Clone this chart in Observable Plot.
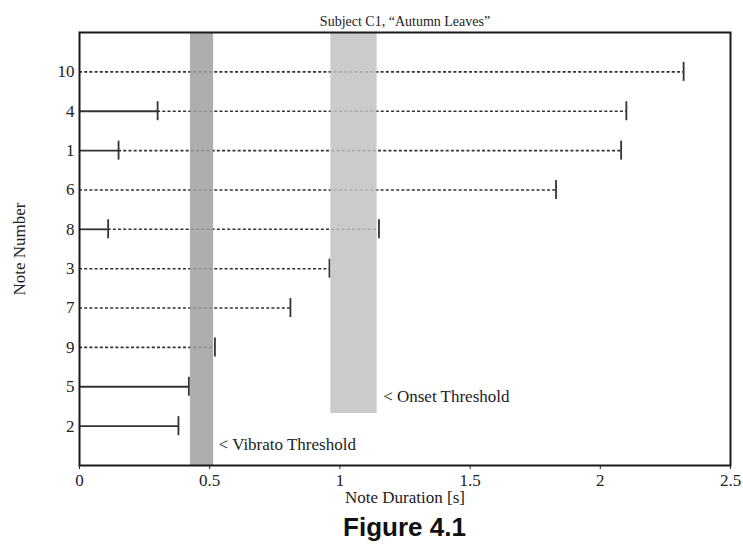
<!DOCTYPE html>
<html>
<head>
<meta charset="utf-8">
<script src="https://cdn.jsdelivr.net/npm/d3@7"></script>
<script src="https://cdn.jsdelivr.net/npm/@observablehq/plot@0.6"></script>
<style>
  body { margin: 0; background: #fff; }
  #cap { margin-left: 79px; width: 651px; text-align: center; font: bold 26px "Liberation Sans", Arial, sans-serif; line-height: 30px; color: #111; }
</style>
</head>
<body>
<div id="chart"></div>
<div id="cap">Figure 4.1</div>
<script>
// Note numbers, top to bottom
const notes = ["10", "4", "1", "6", "8", "3", "7", "9", "5", "2"];
// End of the solid segment [s] (null = none)
const solidEnd = [null, 0.30, 0.15, null, 0.11, null, null, null, 0.42, 0.38];
// End of the dotted segment [s] (null = none)
const dottedEnd = [2.32, 2.10, 2.08, 1.83, 1.15, 0.96, 0.81, 0.52, null, null];
// x tick values
const xTicks = [0, 0.5, 1, 1.5, 2, 2.5];
// threshold bands
const bandNames = ["< Vibrato Threshold", "< Onset Threshold"];
const bandX1 = [0.426, 0.965];
const bandX2 = [0.515, 1.143];
const bandYBottom = [0, 1.32];

const n = notes.length;
const rows = notes.map((note, k) => ({
  note, pos: n - k, solid: solidEnd[k], dotted: dottedEnd[k]
}));
const bands = bandNames.map((name, i) => ({
  name, x1: bandX1[i], x2: bandX2[i], y1: bandYBottom[i], y2: n + 1
}));

const solidRows = rows.filter(r => r.solid != null);
const dottedRows = rows.filter(r => r.dotted != null);

const chart = Plot.plot({
  width: 743,
  height: 512,
  marginTop: 32,
  marginLeft: 79,
  marginRight: 13,
  marginBottom: 47,
  style: { fontFamily: "'Liberation Serif', 'Times New Roman', serif", fontSize: "17px", color: "#222", background: "#fff" },
  x: { domain: [0, 2.5], ticks: xTicks, tickFormat: d => String(d), tickSize: 4, tickPadding: 4, label: null },
  y: { domain: [0, n + 1], ticks: rows.map(r => r.pos), tickFormat: v => notes[n - v], tickSize: 0, tickPadding: 5, label: null },
  marks: [
    // solid segments
    Plot.ruleY(solidRows, { y: "pos", x1: 0, x2: "solid", stroke: "#333", strokeWidth: 1.8 }),
    // dotted segments
    Plot.ruleY(dottedRows, { y: "pos", x1: r => r.solid ?? 0, x2: "dotted", stroke: "#333", strokeWidth: 1.6, strokeDasharray: "3,2.2" }),
    // end ticks
    Plot.ruleX(solidRows, { x: "solid", y1: "pos", y2: "pos", insetTop: -9.5, insetBottom: -9.5, stroke: "#333", strokeWidth: 1.8 }),
    Plot.ruleX(dottedRows, { x: "dotted", y1: "pos", y2: "pos", insetTop: -9.5, insetBottom: -9.5, stroke: "#333", strokeWidth: 1.8 }),
    // threshold bands
    Plot.rectY(bands.slice(0, 1), { x1: "x1", x2: "x2", y1: "y1", y2: "y2", fill: "#a0a0a0", fillOpacity: 0.85 }),
    Plot.rectY(bands.slice(1), { x1: "x1", x2: "x2", y1: "y1", y2: "y2", fill: "#c2c2c2", fillOpacity: 0.85 }),
    Plot.text(bands.slice(0, 1), { x: "x2", y: "y1", text: "name", textAnchor: "start", dx: 5, dy: -21, fill: "#222", fontSize: 17 }),
    Plot.text(bands.slice(1), { x: "x2", y: "y1", text: "name", textAnchor: "start", dx: 6, dy: -17, fill: "#222", fontSize: 17 }),
    Plot.frame({ stroke: "#1a1a1a", strokeWidth: 2 }),
    // title and axis labels
    Plot.text(["Subject C1, “Autumn Leaves”"], { text: d => d, frameAnchor: "top", dy: -16, fill: "#222", fontSize: 14 }),
    Plot.text(["Note Duration [s]"], { text: d => d, frameAnchor: "bottom", dy: 37, fill: "#222", fontSize: 17 }),
    Plot.text(["Note Number"], { text: d => d, frameAnchor: "left", textAnchor: "middle", dx: -60, rotate: -90, fill: "#222", fontSize: 17 })
  ]
});
document.getElementById("chart").appendChild(chart);
</script>
</body>
</html>
